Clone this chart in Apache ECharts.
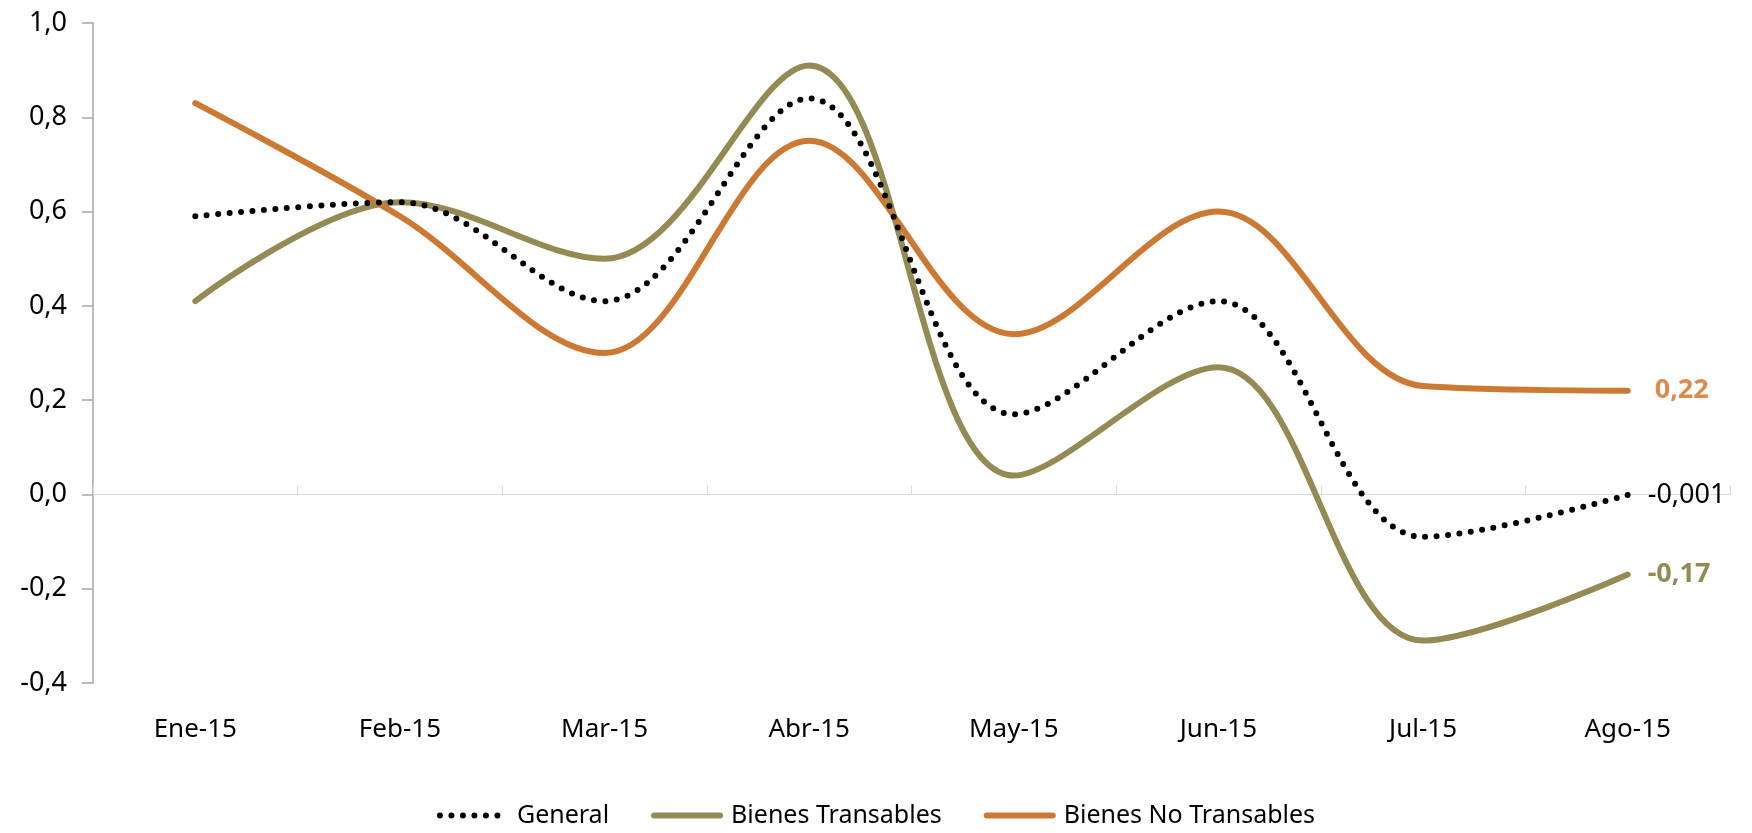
<!DOCTYPE html>
<html>
<head>
    <meta charset="utf-8">
    <title></title>
    <style type="text/css">
        html, body { height: 100%; }
        body { margin: 0; padding: 0; background: #fff; }
        #main { width: 1752px; height: 833px; }
    </style>
</head>
<body>
<div id="main"></div>
<script type="text/javascript" src="https://cdn.jsdelivr.net/npm/echarts@6/dist/echarts.min.js"></script>
<script type="text/javascript">
    // datos
    var meses = ['Ene-15', 'Feb-15', 'Mar-15', 'Abr-15', 'May-15', 'Jun-15', 'Jul-15', 'Ago-15'];
    var general = [0.59, 0.62, 0.41, 0.84, 0.17, 0.41, -0.09, -0.001];
    var transables = [0.41, 0.62, 0.50, 0.91, 0.04, 0.27, -0.31, -0.17];
    var noTransables = [0.83, 0.59, 0.30, 0.75, 0.34, 0.60, 0.23, 0.22];

    var fuente = '"Noto Sans", "Open Sans", sans-serif';
    var coma = function (v) { return String(v).replace('.', ','); };
    var punteado = { color: '#000', width: 6, type: [0, 11.5], cap: 'round' };

    var myChart = echarts.init(document.getElementById('main'));

    var option = {
        backgroundColor: '#ffffff',
        animation: false,
        grid: { left: 93, right: 22, top: 23, bottom: 150 },
        legend: {
            bottom: 0,
            left: 'center',
            itemWidth: 66,
            itemHeight: 16,
            itemGap: 42,
            textStyle: { fontFamily: fuente, fontSize: 25, color: '#000', padding: [0, 0, 0, 6] },
            data: [
                { name: 'General', itemStyle: { opacity: 0 }, lineStyle: punteado },
                { name: 'Bienes Transables', itemStyle: { opacity: 0 }, lineStyle: { width: 6 } },
                { name: 'Bienes No Transables', itemStyle: { opacity: 0 }, lineStyle: { width: 6 } }
            ]
        },
        xAxis: [
            {
                type: 'category',
                data: meses,
                axisLine: { onZero: true, lineStyle: { color: '#d9d9d9', width: 1 } },
                axisTick: { show: true, inside: true, length: 9, interval: 0, lineStyle: { color: '#d9d9d9' } },
                axisLabel: { show: false }
            },
            {
                type: 'category',
                position: 'bottom',
                data: meses,
                axisLine: { show: false },
                axisTick: { show: false },
                axisLabel: { margin: 34, fontFamily: fuente, fontSize: 26, color: '#000' }
            }
        ],
        yAxis: {
            type: 'value',
            min: -0.4,
            max: 1.0,
            interval: 0.2,
            splitLine: { show: false },
            axisLine: { show: true, lineStyle: { color: '#a6a6a6', width: 1.5 } },
            axisTick: { show: true, length: 11, lineStyle: { color: '#a6a6a6', width: 1.5 } },
            axisLabel: {
                margin: 26,
                fontFamily: fuente,
                fontSize: 27,
                color: '#000',
                formatter: function (v) { return v.toFixed(1).replace('.', ','); }
            }
        },
        series: [
            {
                name: 'General',
                type: 'line',
                xAxisIndex: 0,
                smooth: 0.35,
                symbol: 'none',
                data: general,
                z: 3,
                lineStyle: punteado,
                itemStyle: { color: '#000' },
                endLabel: {
                    show: true,
                    distance: 20,
                    fontFamily: fuente,
                    fontSize: 27,
                    color: '#000',
                    formatter: function (p) { return coma(p.value); }
                }
            },
            {
                name: 'Bienes Transables',
                type: 'line',
                xAxisIndex: 0,
                smooth: 0.35,
                symbol: 'none',
                data: transables,
                z: 2,
                lineStyle: { color: '#948a54', width: 6, cap: 'round' },
                itemStyle: { color: '#948a54' },
                endLabel: {
                    show: true,
                    distance: 20,
                    fontFamily: fuente,
                    fontSize: 27,
                    fontWeight: 'bold',
                    color: '#948a54',
                    formatter: function (p) { return coma(p.value); }
                }
            },
            {
                name: 'Bienes No Transables',
                type: 'line',
                xAxisIndex: 0,
                smooth: 0.35,
                symbol: 'none',
                data: noTransables,
                z: 2,
                lineStyle: { color: '#cc7a33', width: 6, cap: 'round' },
                itemStyle: { color: '#cc7a33' },
                endLabel: {
                    show: true,
                    distance: 27,
                    fontFamily: fuente,
                    fontSize: 27,
                    fontWeight: 'bold',
                    color: '#dd8a4e',
                    formatter: function (p) { return coma(p.value); }
                }
            }
        ]
    };

    myChart.setOption(option);
</script>
</body>
</html>
